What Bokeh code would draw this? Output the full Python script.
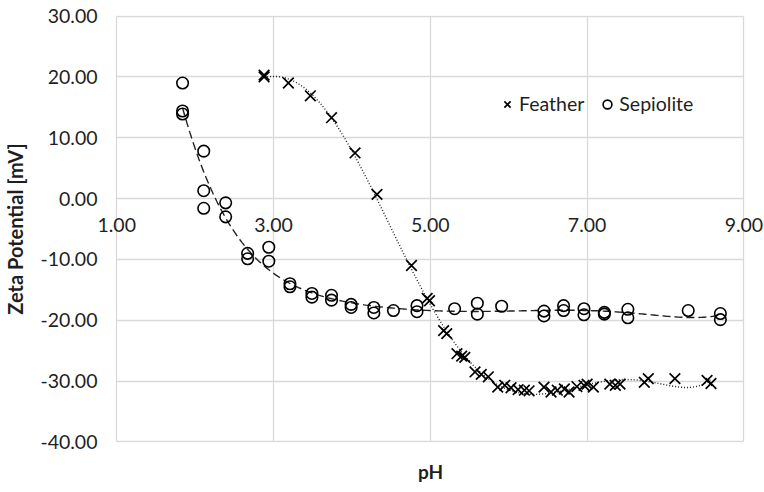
import numpy as np
from bokeh.plotting import figure
from bokeh.models import (FixedTicker, NumeralTickFormatter, Range1d,
                          Legend, LegendItem, ColumnDataSource, LabelSet)
from bokeh.core.properties import value
from bokeh.embed import file_html
from bokeh.resources import INLINE

# ---- data ----
feather_ph = [2.88, 2.88, 3.19, 3.47, 3.74, 4.04, 4.32, 4.76, 4.96, 4.99,
              5.17, 5.21, 5.34, 5.40, 5.44, 5.57, 5.65, 5.74, 5.86, 5.95,
              6.03, 6.12, 6.20, 6.26, 6.45, 6.54, 6.62, 6.71, 6.77, 6.87,
              6.96, 7.00, 7.08, 7.29, 7.36, 7.42, 7.73, 7.78, 8.12, 8.53, 8.58]
feather_zeta = [20.3, 20.0, 19.0, 16.9, 13.3, 7.5, 0.7, -11.0, -16.4, -16.8,
                -21.7, -22.2, -25.5, -25.9, -26.1, -28.5, -28.9, -29.3, -31.0, -30.7,
                -31.1, -31.4, -31.5, -31.6, -31.0, -31.8, -31.5, -31.3, -31.8, -30.9,
                -30.7, -30.5, -31.0, -30.5, -30.7, -30.5, -30.2, -29.6, -29.6, -29.9, -30.4]

sepiolite_ph = [1.84, 1.84, 1.84, 2.11, 2.11, 2.11, 2.39, 2.39, 2.67, 2.67,
                2.94, 2.94, 3.21, 3.21, 3.49, 3.49, 3.74, 3.74, 3.99, 3.99,
                4.28, 4.28, 4.53, 4.83, 4.83, 5.31, 5.60, 5.60, 5.91, 6.45,
                6.45, 6.70, 6.70, 6.96, 6.96, 7.22, 7.22, 7.52, 7.52, 8.29,
                8.70, 8.70]
sepiolite_zeta = [19.0, 14.4, 13.9, 7.8, 1.3, -1.6, -0.7, -3.0, -9.0, -9.9,
                  -8.0, -10.3, -14.0, -14.5, -15.6, -16.2, -15.9, -16.7, -17.4, -17.9,
                  -17.9, -18.8, -18.4, -17.6, -18.6, -18.1, -17.2, -19.0, -17.7, -18.5,
                  -19.3, -17.6, -18.4, -18.1, -19.1, -18.7, -19.0, -18.2, -19.6, -18.4,
                  -18.9, -19.9]

x_ticks = [1, 3, 5, 7, 9]
x_tick_labels = ["1.00", "3.00", "5.00", "7.00", "9.00"]
y_ticks = [-40, -30, -20, -10, 0, 10, 20, 30]
x_min, x_max = 1, 9
y_min, y_max = -40, 30
x_axis_cross = 0          # horizontal axis crosses the value axis at 0
TREND_ORDER = 6

# ---- polynomial trendlines (as in the spreadsheet) ----
def trend(xs, ys, order):
    xs = np.asarray(xs, float); ys = np.asarray(ys, float)
    c = np.polyfit(xs, ys, order)
    xx = np.linspace(xs.min(), xs.max(), 300)
    return xx, np.polyval(c, xx)

fx, fy = trend(feather_ph, feather_zeta, TREND_ORDER)
sx, sy = trend(sepiolite_ph, sepiolite_zeta, TREND_ORDER)

FONT = "Lato"
GRID = "#d9d9d9"
TXT = "#1f1f1f"
TICK_SIZE = "19.5px"

# the frame is a little larger than the plot box so the end tick labels
# under the zero line ("1.00", "9.00") and the box edges are not clipped
PAD_L, PAD_R, PAD_Y = 0.245, 0.25, 0.1
p = figure(width=764, height=492, output_backend="svg", toolbar_location=None,
           x_range=Range1d(x_min - PAD_L, x_max + PAD_R),
           y_range=Range1d(y_min - PAD_Y, y_max + PAD_Y),
           min_border_left=90, min_border_right=1, min_border_top=15,
           min_border_bottom=50)
p.outline_line_color = None
p.background_fill_color = "white"
p.border_fill_color = "white"

# grids (they also form the box of the plot area)
p.xgrid.ticker = FixedTicker(ticks=x_ticks)
p.ygrid.ticker = FixedTicker(ticks=y_ticks)
for g in (p.xgrid[0], p.ygrid[0]):
    g.grid_line_color = GRID
    g.grid_line_width = 1.3
p.ygrid[0].cross_bounds = (x_min, x_max)
p.xgrid[0].cross_bounds = (y_min, y_max)

# bottom axis: only the title
bx = p.xaxis[0]
bx.ticker = FixedTicker(ticks=[])
bx.axis_line_alpha = 0
bx.major_tick_out = 0
bx.major_tick_in = 0
bx.minor_tick_out = 0
bx.minor_tick_in = 0
bx.major_label_standoff = 0
bx.axis_label = "pH"
bx.axis_label_text_font = FONT
bx.axis_label_text_font_style = "bold"
bx.axis_label_text_font_size = "19px"
bx.axis_label_text_color = TXT
bx.axis_label_standoff = 17

# x tick labels sitting under the zero line
xl_src = ColumnDataSource(dict(x=x_ticks, y=[x_axis_cross] * len(x_ticks),
                               text=x_tick_labels))
xlabels = LabelSet(x="x", y="y", text="text", source=xl_src,
                   text_align="center", text_baseline="middle", y_offset=-26,
                   text_font=value(FONT), text_font_size=value(TICK_SIZE),
                   text_color=TXT)
p.add_layout(xlabels)

# y axis
ya = p.yaxis[0]
ya.ticker = FixedTicker(ticks=y_ticks)
ya.formatter = NumeralTickFormatter(format="0.00")
ya.axis_line_alpha = 0
ya.major_tick_out = 0
ya.major_tick_in = 0
ya.minor_tick_out = 0
ya.minor_tick_in = 0
ya.major_label_standoff = 0
ya.major_label_text_font = FONT
ya.major_label_text_font_size = TICK_SIZE
ya.major_label_text_color = TXT
ya.axis_label = "Zeta Potential [mV]"
ya.axis_label_text_font = FONT
ya.axis_label_text_font_style = "bold"
ya.axis_label_text_font_size = "20px"
ya.axis_label_text_color = TXT
ya.axis_label_standoff = 10

# trendlines
p.line(fx, fy, line_color="#222222", line_width=1.4, line_dash="1 2")
p.line(sx, sy, line_color="#222222", line_width=1.4, line_dash="8 4")

# points
fsrc = ColumnDataSource(dict(x=feather_ph, y=feather_zeta))
ssrc = ColumnDataSource(dict(x=sepiolite_ph, y=sepiolite_zeta))
rf = p.scatter("x", "y", source=fsrc, marker="x", size=15, line_color="black",
               line_width=1.7)
rs = p.scatter("x", "y", source=ssrc, marker="circle", size=11.5, line_color="black",
               fill_alpha=0, line_width=1.6)

legend = Legend(items=[LegendItem(label="Feather", renderers=[rf]),
                       LegendItem(label="Sepiolite", renderers=[rs])],
                orientation="horizontal", location=(399, 327),
                padding=0, margin=0, spacing=12, label_standoff=1,
                glyph_width=22, glyph_height=22,
                border_line_alpha=0, background_fill_alpha=0,
                label_text_font=FONT, label_text_font_size="19.5px",
                label_text_color=TXT)
p.add_layout(legend, "center")

open("out.html", "w").write(file_html(p, INLINE))
